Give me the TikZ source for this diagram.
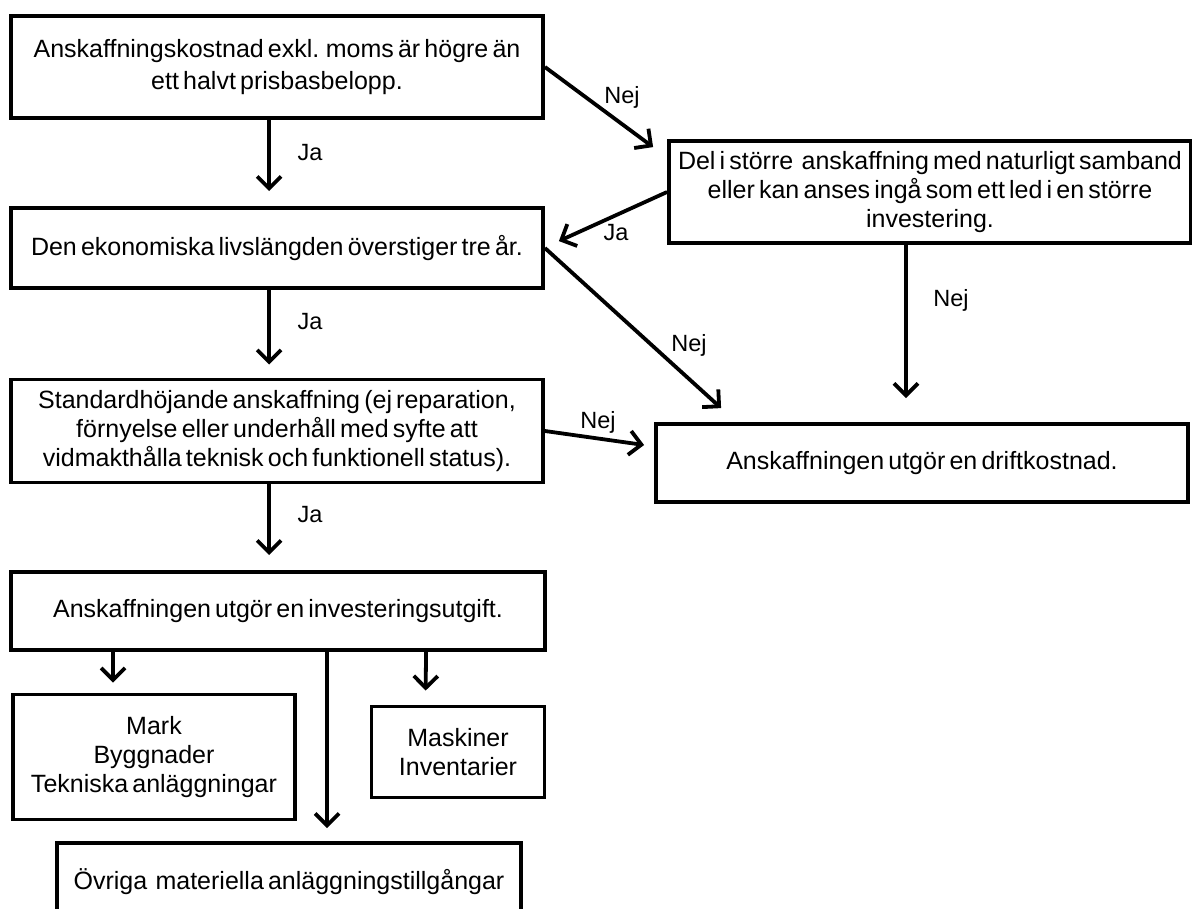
\documentclass[tikz,border=0pt]{standalone}
\usepackage{fontspec}
\setmainfont{Liberation Sans}[WordSpace=0.6]
\usetikzlibrary{arrows.meta,calc}
\begin{document}
\begin{tikzpicture}[x=1pt,y=-1pt,
  box/.style={draw,line width=3.8pt,inner sep=0pt,align=center,rectangle,font=\fontsize{25}{29}\selectfont},
  arr/.style={line width=3.8pt,-{Straight Barb[length=12pt,width=24pt]}},
  lab/.style={font=\fontsize{23.5}{27}\selectfont,inner sep=0pt}]
\useasboundingbox (0,0) rectangle (1192,909);
\clip (0,0) rectangle (1192,909);

% boxes
\node[box,minimum width=532pt,minimum height=102pt,font=\fontsize{25}{32}\selectfont] (A) at (277,67)
  {Anskaffningskostnad exkl. moms är högre än\\ett halvt prisbasbelopp.};
\node[box,minimum width=532pt,minimum height=80pt] (B) at (277,248)
  {Den ekonomiska livslängden överstiger tre år.};
\node[box,minimum width=532pt,minimum height=103pt] (C) at (277,431)
  {Standardhöjande anskaffning (ej reparation,\\förnyelse eller underhåll med syfte att\\vidmakthålla teknisk och funktionell status).};
\node[box,minimum width=534pt,minimum height=78pt] (D) at (278,611)
  {Anskaffningen utgör en investeringsutgift.};
\node[box,minimum width=522pt,minimum height=102pt] (E) at (930,192)
  {Del i större~ anskaffning med naturligt samband\\eller kan anses ingå som ett led i en större\\investering.};
\node[box,minimum width=532pt,minimum height=78pt] (F) at (922,463)
  {Anskaffningen utgör en driftkostnad.};
\node[box,minimum width=282pt,minimum height=125pt] (G) at (154,757)
  {Mark\\Byggnader\\Tekniska anläggningar};
\node[box,minimum width=173pt,minimum height=91pt] (H) at (458,752)
  {Maskiner\\Inventarier};
\node[box,minimum width=464pt,minimum height=78pt] (I) at (289,882)
  {Övriga~ materiella anläggningstillgångar};

% connectors
\draw[arr] ($(A.south west)+(260,0)$) -- ($(B.north west)+(260,-15)$);
\draw[arr] ($(B.south west)+(260,0)$) -- ($(C.north west)+(260,-13)$);
\draw[arr] ($(C.south west)+(260,0)$) -- ($(D.north west)+(260,-15)$);
\draw[arr] (A.east) -- ($(E.north west)+(-14,8)$);
\draw[arr] (E.west) -- ($(B.north east)+(14,35)$);
\draw[arr] (B.east) -- ($(F.north west)+(67,-14)$);
\draw[arr] ($(E.south)+(-24,0)$) -- ($(F.north)+(-16,-24)$);
\draw[arr] (C.east) -- ($(F.west)+(-10,-18)$);
\draw[arr] ($(D.south west)+(104,0)$) -- ($(G.north west)+(102,-10)$);
\draw[arr] ($(D.south west)+(318,0)$) -- ($(I.north west)+(272,-13)$);
\draw[arr] ($(D.south west)+(417,0)$) -- ($(H.north west)+(56,-14)$);

% labels
\node[lab] (l1) at (310,153) {Ja};
\node[lab] (l2) at (310,322) {Ja};
\node[lab] (l3) at (310,515) {Ja};
\node[lab] (l4) at (622,97) {Nej};
\node[lab] (l5) at (616,233) {Ja};
\node[lab] (l6) at (689,345) {Nej};
\node[lab] (l7) at (951,300) {Nej};
\node[lab] (l8) at (598,422) {Nej};
\end{tikzpicture}
\end{document}
